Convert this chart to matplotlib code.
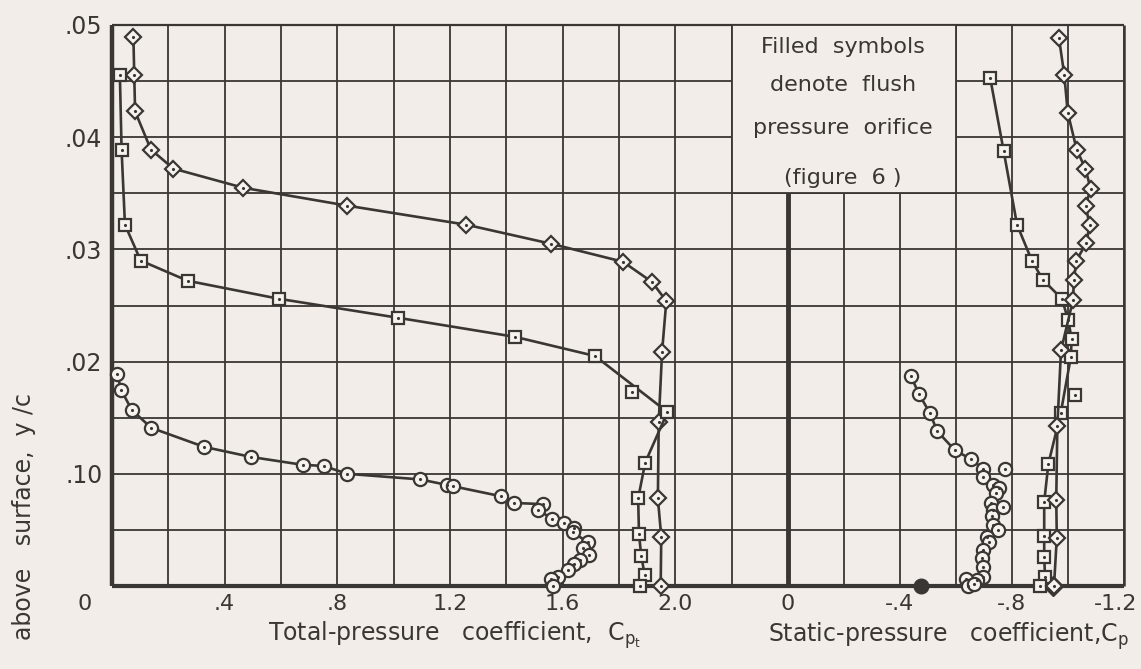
import numpy as np
import matplotlib
matplotlib.use("Agg")
import matplotlib.pyplot as plt
from matplotlib.patches import Rectangle
import matplotlib.transforms as mtransforms

# ---------------- data ----------------
# Left panel: total-pressure coefficient Cpt vs y/c
tot_diamond_cp = [0.076, 0.079, 0.082, 0.138, 0.218, 0.465, 0.835, 1.258, 1.559,
                  1.814, 1.917, 1.968, 1.953, 1.941, 1.938, 1.950, 1.948]
tot_diamond_y = [0.0489, 0.0455, 0.0423, 0.0389, 0.0372, 0.0355, 0.0339, 0.0322, 0.0305,
                 0.0289, 0.0271, 0.0254, 0.0209, 0.0146, 0.0078, 0.0044, 0.0000]

tot_square_cp = [0.028, 0.034, 0.046, 0.102, 0.269, 0.592, 1.017, 1.432, 1.715,
                 1.972, 1.893, 1.868, 1.871, 1.879, 1.891, 1.875]
tot_square_y = [0.0455, 0.0389, 0.0322, 0.0290, 0.0272, 0.0256, 0.0239, 0.0222, 0.0205,
                0.0155, 0.0110, 0.0078, 0.0046, 0.0027, 0.0010, 0.0000]
tot_square_off_cp = [1.847]
tot_square_off_y = [0.0173]

tot_circle_cp = [0.019, 0.032, 0.070, 0.139, 0.327, 0.494, 0.677, 0.752, 0.835, 1.094,
                 1.191, 1.209, 1.381, 1.428, 1.529, 1.513, 1.561, 1.604, 1.639, 1.636,
                 1.689, 1.671, 1.695, 1.663, 1.642, 1.618, 1.583, 1.559, 1.565]
tot_circle_y = [0.0189, 0.0175, 0.0157, 0.0141, 0.0124, 0.0115, 0.0108, 0.0107, 0.0100, 0.0095,
                0.0090, 0.0089, 0.0080, 0.0074, 0.0073, 0.0068, 0.0060, 0.0056, 0.0052, 0.0048,
                0.0039, 0.0034, 0.0028, 0.0023, 0.0020, 0.0014, 0.0008, 0.0006, 0.0000]

# Right panel: static-pressure coefficient Cp vs y/c
st_diamond_cp = [-0.968, -0.987, -0.999, -1.031, -1.062, -1.081, -1.063, -1.077, -1.066,
                 -1.030, -1.021, -1.018, -0.975, -0.962, -0.958, -0.960, -0.950]
st_diamond_y = [0.0488, 0.0455, 0.0422, 0.0389, 0.0372, 0.0354, 0.0339, 0.0322, 0.0306,
                0.0290, 0.0273, 0.0255, 0.0210, 0.0143, 0.0077, 0.0043, 0.0000]

st_square_cp = [-0.722, -0.770, -0.818, -0.871, -0.910, -0.978, -1.001, -1.013, -1.010,
                -0.974, -0.930, -0.915, -0.915, -0.915, -0.918, -0.900]
st_square_y = [0.0453, 0.0388, 0.0322, 0.0290, 0.0273, 0.0256, 0.0237, 0.0220, 0.0204,
               0.0154, 0.0109, 0.0075, 0.0045, 0.0026, 0.0008, 0.0000]
st_square_off_cp = [-1.025]
st_square_off_y = [0.0170]

st_circle_cp = [-0.439, -0.468, -0.507, -0.533, -0.596, -0.654, -0.698, -0.695, -0.733,
                -0.755, -0.743, -0.724, -0.733, -0.727, -0.733, -0.751, -0.712, -0.719,
                -0.698, -0.694, -0.698, -0.698, -0.674, -0.636, -0.642, -0.664]
st_circle_y = [0.0187, 0.0171, 0.0154, 0.0138, 0.0121, 0.0113, 0.0104, 0.0097, 0.0090,
               0.0087, 0.0083, 0.0074, 0.0068, 0.0062, 0.0054, 0.0050, 0.0044, 0.0039,
               0.0032, 0.0025, 0.0017, 0.0008, 0.0005, 0.0006, 0.0000, 0.0002]
st_circle_extra_cp = [-0.775, -0.767]
st_circle_extra_y = [0.0104, 0.0070]

# Filled symbols (flush pressure orifice)
flush_circle_cp = [-0.475]
flush_circle_y = [0.0]
flush_diamond_cp = [-0.945]
flush_diamond_y = [0.0]

# tick labels
left_xticks = [0, 0.2, 0.4, 0.6, 0.8, 1.0, 1.2, 1.4, 1.6, 1.8, 2.0, 2.2, 2.4]
left_xlabels = ['0', '', '.4', '', '.8', '', '1.2', '', '1.6', '', '2.0', '', '']
right_xticks = [0, -0.2, -0.4, -0.6, -0.8, -1.0, -1.2]
right_xlabels = ['0', '', '-.4', '', '-.8', '', '-1.2']
yticks = [0, 0.005, 0.01, 0.015, 0.02, 0.025, 0.03, 0.035, 0.04, 0.045, 0.05]
ylabels = ['', '', '.10', '', '.02', '', '.03', '', '.04', '', '.05']

# ---------------- style ----------------
BG = '#f2ede8'
INK = '#3a3633'
FACE = '#f6f3ef'
FS = 16
FL = 17
plt.rcParams['font.family'] = ['DejaVu Sans']
plt.rcParams['mathtext.default'] = 'regular'

W, H = 1141, 669
fig = plt.figure(figsize=(W / 100, H / 100), dpi=100)
fig.patch.set_facecolor(BG)

axL = fig.add_axes([112 / W, 83 / H, 676 / W, 561 / H])
axR = fig.add_axes([788 / W, 83 / H, 336 / W, 561 / H])

for ax in (axL, axR):
    ax.set_facecolor(BG)
    ax.set_ylim(0, 0.05)
    ax.set_yticks(yticks)
    ax.grid(True, color=INK, lw=1.3)
    ax.tick_params(length=0, labelsize=FS, colors=INK, pad=6)
    for s in ax.spines.values():
        s.set_color(INK)
        s.set_capstyle('butt')

axL.set_xlim(0, 2.4)
axL.set_xticks(left_xticks)
axL.set_xticklabels(left_xlabels)
axL.set_yticklabels(ylabels, fontsize=17)
axL.spines['right'].set_visible(False)
axL.spines['left'].set_linewidth(3.2)
axL.spines['bottom'].set_linewidth(3.0)
axL.spines['top'].set_linewidth(1.6)
axL.tick_params(axis='y', pad=7)

axR.set_xlim(0, -1.2)
axR.set_xticks(right_xticks)
axR.set_xticklabels(right_xlabels)
axR.tick_params(axis='y', labelleft=False)
axR.spines['left'].set_linewidth(3.5)
axR.spines['bottom'].set_linewidth(3.0)
axR.spines['top'].set_linewidth(1.6)
axR.spines['right'].set_linewidth(1.8)

# shift the '0' label of the left axis to the corner position, and pull '-1.2' inside
off0 = mtransforms.ScaledTranslation(-27 / 100, 0, fig.dpi_scale_trans)
lab0 = axL.get_xticklabels()[0]
lab0.set_transform(lab0.get_transform() + off0)
offR = mtransforms.ScaledTranslation(-8 / 100, 0, fig.dpi_scale_trans)
labR = axR.get_xticklabels()[-1]
labR.set_transform(labR.get_transform() + offR)

common = dict(color=INK, lw=1.9, mec=INK, mfc=FACE, mew=1.6, zorder=3, clip_on=False)
dot = dict(ls='none', marker='.', ms=2.5, color=INK, zorder=4, clip_on=False)

def series(ax, x, y, marker, ms, line=True):
    ax.plot(x, y, marker=marker, ms=ms, ls='-' if line else 'none', **common)
    ax.plot(x, y, **dot)

series(axL, tot_diamond_cp, tot_diamond_y, 'D', 8.5)
series(axL, tot_square_cp, tot_square_y, 's', 8.5)
series(axL, tot_square_off_cp, tot_square_off_y, 's', 8.5, line=False)
series(axL, tot_circle_cp, tot_circle_y, 'o', 9.5)

axR.plot(flush_diamond_cp, flush_diamond_y, ls='none', marker='D', ms=10, color=INK,
         zorder=2.8, clip_on=False)
axR.plot(flush_circle_cp, flush_circle_y, ls='none', marker='o', ms=10.5, color=INK,
         zorder=3, clip_on=False)
series(axR, st_circle_cp, st_circle_y, 'o', 9.5)
series(axR, st_circle_extra_cp, st_circle_extra_y, 'o', 9.5, line=False)
series(axR, st_square_cp, st_square_y, 's', 8.5)
series(axR, st_square_off_cp, st_square_off_y, 's', 8.5, line=False)
series(axR, st_diamond_cp, st_diamond_y, 'D', 8.5)

# note box covering part of the grid
axR.add_patch(Rectangle((0.2, 0.035), -0.8, 0.015, facecolor=BG, edgecolor=INK,
                        lw=1.3, zorder=2.7, clip_on=False))
note_lines = ['Filled  symbols', 'denote  flush', 'pressure  orifice', '(figure  6 )']
note_y = [0.961, 0.893, 0.816, 0.727]
for t, yy in zip(note_lines, note_y):
    axR.text(0.164, yy, t, transform=axR.transAxes, ha='center', va='center',
             fontsize=16, color=INK, zorder=5)

fig.text(455 / W, 1 - 641 / H, 'Total-pressure   coefficient,  C$_{p_t}$', ha='center',
         va='baseline', fontsize=FL, color=INK)
fig.text(949 / W, 1 - 642 / H, 'Static-pressure   coefficient,C$_p$', ha='center',
         va='baseline', fontsize=FL, color=INK)
fig.text(24 / W, 1 - 517 / H, 'above   surface,  y /c', rotation=90, ha='center',
         va='center', fontsize=FL, color=INK)

fig.savefig('out.png', dpi=100, facecolor=BG)
